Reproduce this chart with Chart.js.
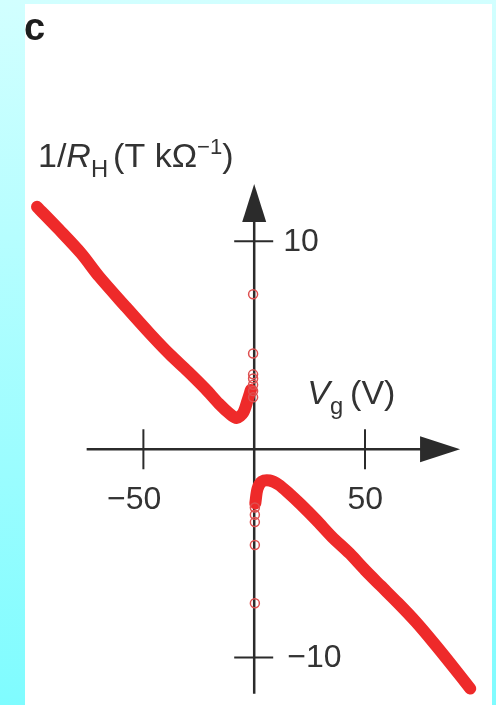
<!DOCTYPE html>
<html>
<head>
<meta charset="utf-8">
<script src="https://cdn.jsdelivr.net/npm/chart.js@4"></script>
<style>
    html, body { margin: 0; padding: 0; }
    body {
        width: 496px; height: 705px; position: relative; overflow: hidden;
        background: linear-gradient(to bottom, #d2ffff, #7ffcff);
    }
    #panel { position: absolute; left: 25px; top: 4px; width: 467px; height: 701px; background: #fff; }
    #wrap { position: absolute; left: 0; top: 0; width: 496px; height: 705px; }
</style>
</head>
<body>
<div id="panel"></div>
<div id="wrap"><canvas id="chart"></canvas></div>
<script>
// gate voltage (V) and 1/R_H (T kOhm^-1)
const vgHoles = [-98, -88, -78, -70, -58, -47, -38, -30, -22, -16, -11, -8, -5, -3, -1.5];
const invRhHoles = [11.65, 10.55, 9.4, 8.3, 6.85, 5.55, 4.55, 3.75, 2.9, 2.2, 1.7, 1.5, 1.75, 2.35, 2.85];

const vgElectrons = [0.5, 1.5, 3.5, 7, 11, 16, 21, 28, 35, 43, 50, 57, 65, 73, 81, 89, 97.5];
const invRhElectrons = [-2.6, -1.9, -1.55, -1.5, -1.7, -2.15, -2.65, -3.4, -4.2, -5.0, -5.8, -6.55, -7.4, -8.3, -9.3, -10.35, -11.5];

// open circles close to the neutrality point
const vgUpper = [-0.5, -0.5, -0.5, -0.5, -0.5, -0.5, -0.5];
const invRhUpper = [7.45, 4.6, 3.6, 3.4, 3.1, 2.8, 2.5];
const vgLower = [0.3, 0.3, 0.3, 0.3, 0.3];
const invRhLower = [-2.8, -3.15, -3.5, -4.6, -7.4];

const xTicks = [-50, 50];
const xTickLabels = ['\u221250', '50'];
const yTicks = [10, -10];
const yTickLabels = ['10', '\u221210'];

const xAxisEnds = [-75.6, 92.9];
const yAxisEnds = [-11.75, 12.75];

const RED = '#ee2a2a';
const INK = '#2b2b2b';
const FONT = '"Liberation Sans", Arial, sans-serif';

function pts(xs, ys) {
    return xs.map((x, i) => ({ x: x, y: ys[i] }));
}

function drawRich(ctx, x, y, parts, size) {
    let cx = x;
    for (const p of parts) {
        let fs = size, dy = 0;
        if (p.sub) { fs = size * 0.7; dy = size * 0.3; }
        if (p.sup) { fs = size * 0.65; dy = -size * 0.38; }
        ctx.font = (p.italic ? 'italic ' : '') + fs + 'px ' + FONT;
        ctx.fillText(p.t, cx, y + dy);
        cx += ctx.measureText(p.t).width + (p.gap || 0);
    }
}

const axesPlugin = {
    id: 'axesPlugin',
    beforeDatasetsDraw(chart) {
        const ctx = chart.ctx;
        const xs = chart.scales.x, ys = chart.scales.y;
        const x0 = xs.getPixelForValue(0), y0 = ys.getPixelForValue(0);
        ctx.save();
        ctx.strokeStyle = INK;
        ctx.fillStyle = INK;
        ctx.lineWidth = 2.5;

        // horizontal axis
        const xl = xs.getPixelForValue(xAxisEnds[0]), xr = xs.getPixelForValue(xAxisEnds[1]);
        ctx.beginPath();
        ctx.moveTo(xl, y0); ctx.lineTo(xr - 30, y0);
        ctx.stroke();
        ctx.beginPath();
        ctx.moveTo(xr, y0); ctx.lineTo(xr - 40, y0 - 13); ctx.lineTo(xr - 40, y0 + 13);
        ctx.closePath(); ctx.fill();

        // vertical axis
        const yb = ys.getPixelForValue(yAxisEnds[0]), yt = ys.getPixelForValue(yAxisEnds[1]);
        ctx.beginPath();
        ctx.moveTo(x0, yb); ctx.lineTo(x0, yt + 30);
        ctx.stroke();
        ctx.beginPath();
        ctx.moveTo(x0, yt); ctx.lineTo(x0 - 12, yt + 38); ctx.lineTo(x0 + 12, yt + 38);
        ctx.closePath(); ctx.fill();

        // ticks
        ctx.lineWidth = 2;
        xTicks.forEach(v => {
            const px = xs.getPixelForValue(v);
            ctx.beginPath(); ctx.moveTo(px, y0 - 20); ctx.lineTo(px, y0 + 20); ctx.stroke();
        });
        yTicks.forEach(v => {
            const py = ys.getPixelForValue(v);
            ctx.beginPath(); ctx.moveTo(x0 - 20, py); ctx.lineTo(x0 + 19, py); ctx.stroke();
        });
        ctx.restore();
    },
    afterDraw(chart) {
        const ctx = chart.ctx;
        const xs = chart.scales.x, ys = chart.scales.y;
        const x0 = xs.getPixelForValue(0), y0 = ys.getPixelForValue(0);
        ctx.save();
        ctx.fillStyle = '#333';
        ctx.textBaseline = 'middle';
        ctx.font = '32px ' + FONT;

        xTicks.forEach((v, i) => {
            ctx.textAlign = 'right';
            ctx.fillText(xTickLabels[i], xs.getPixelForValue(v) + 18, y0 + 51);
        });
        yTicks.forEach((v, i) => {
            ctx.textAlign = 'left';
            ctx.fillText(yTickLabels[i], x0 + (v < 0 ? 33 : 29), ys.getPixelForValue(v) + 1);
        });

        ctx.textAlign = 'left';
        ctx.textBaseline = 'alphabetic';
        drawRich(ctx, 38, 167, [
            { t: '1/' }, { t: 'R', italic: true }, { t: 'H', sub: true, gap: 5 },
            { t: '(T k\u03a9' }, { t: '\u22121', sup: true }, { t: ')' }
        ], 34);
        drawRich(ctx, x0 + 53, y0 - 45, [
            { t: 'V', italic: true }, { t: 'g', sub: true, gap: 7 }, { t: '(V)' }
        ], 34);

        ctx.fillStyle = '#1e1e1e';
        ctx.font = 'bold 38px ' + FONT;
        ctx.fillText('c', 24, 40);
        ctx.restore();
    }
};

new Chart(document.getElementById('chart'), {
    type: 'scatter',
    data: {
        datasets: [
            {
                data: pts(vgUpper, invRhUpper),
                pointRadius: 4.5, pointBorderWidth: 1.5,
                borderColor: '#de5050', backgroundColor: 'rgba(0,0,0,0)',
                clip: false
            },
            {
                data: pts(vgLower, invRhLower),
                pointRadius: 4.5, pointBorderWidth: 1.5,
                borderColor: '#de5050', backgroundColor: 'rgba(0,0,0,0)',
                clip: false
            },
            {
                data: pts(vgHoles, invRhHoles),
                showLine: true, borderColor: RED, borderWidth: 12, tension: 0.3,
                borderCapStyle: 'round', borderJoinStyle: 'round', pointRadius: 0,
                clip: false
            },
            {
                data: pts(vgElectrons, invRhElectrons),
                showLine: true, borderColor: RED, borderWidth: 12, tension: 0.3,
                borderCapStyle: 'round', borderJoinStyle: 'round', pointRadius: 0,
                clip: false
            }
        ]
    },
    options: {
        responsive: true,
        maintainAspectRatio: false,
        animation: false,
        layout: { padding: { left: 21.5, right: 9.1, top: 157.9, bottom: 1.9 } },
        scales: {
            x: { type: 'linear', min: -105, max: 105, display: false },
            y: { type: 'linear', min: -12, max: 14, display: false }
        },
        plugins: { legend: { display: false }, tooltip: { enabled: false } }
    },
    plugins: [axesPlugin]
});
</script>
</body>
</html>
